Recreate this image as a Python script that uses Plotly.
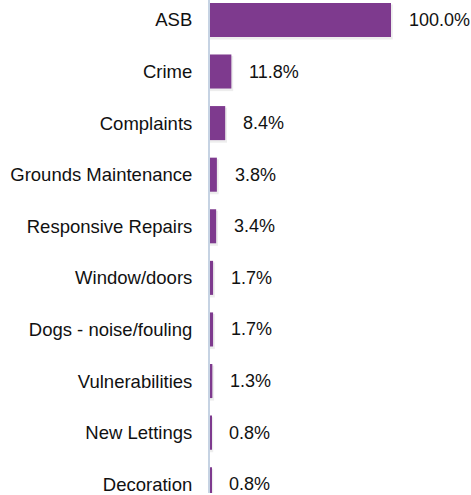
import plotly.graph_objects as go

categories = ["ASB", "Crime", "Complaints", "Grounds Maintenance", "Responsive Repairs",
              "Window/doors", "Dogs - noise/fouling", "Vulnerabilities", "New Lettings", "Decoration"]
values = [100.0, 11.8, 8.4, 3.8, 3.4, 1.7, 1.7, 1.3, 0.8, 0.8]
labels = ["100.0%", "11.8%", "8.4%", "3.8%", "3.4%", "1.7%", "1.7%", "1.3%", "0.8%", "0.8%"]

FONT = "Liberation Sans, Arial, sans-serif"
PURPLE = "#7E3A8E"

fig = go.Figure()
# soft shadow
fig.add_trace(go.Bar(
    x=[v * 1.0 + 1.0 for v in values], y=categories, orientation="h",
    marker=dict(color="rgba(0,0,0,0.07)", line=dict(width=0)),
    width=0.68, offset=-0.30, hoverinfo="skip", showlegend=False,
))
fig.add_trace(go.Bar(
    x=values, y=categories, orientation="h",
    marker=dict(color=PURPLE, line=dict(width=0)),
    width=0.66, showlegend=False,
))

for c, v, t in zip(categories, values, labels):
    fig.add_annotation(x=v, y=c, text=t, showarrow=False, xanchor="left",
                       xshift=16, font=dict(family=FONT, size=18, color="#111111"))

fig.update_layout(
    width=471, height=495,
    margin=dict(l=210, r=0, t=0, b=0),
    paper_bgcolor="white", plot_bgcolor="white",
    barmode="overlay",
    font=dict(family=FONT, size=18, color="#111111"),
    xaxis=dict(range=[0, 144.2], showgrid=False, zeroline=False, showticklabels=False,
               showline=False),
    yaxis=dict(categoryorder="array", categoryarray=categories,
               range=[9.17, -0.386], showgrid=False, zeroline=False,
               showline=True, linecolor="#C6D3E3", linewidth=2,
               ticks="", ticklabelstandoff=12,
               tickfont=dict(family=FONT, size=18.5, color="#111111")),
)

fig.write_html("out.html")
